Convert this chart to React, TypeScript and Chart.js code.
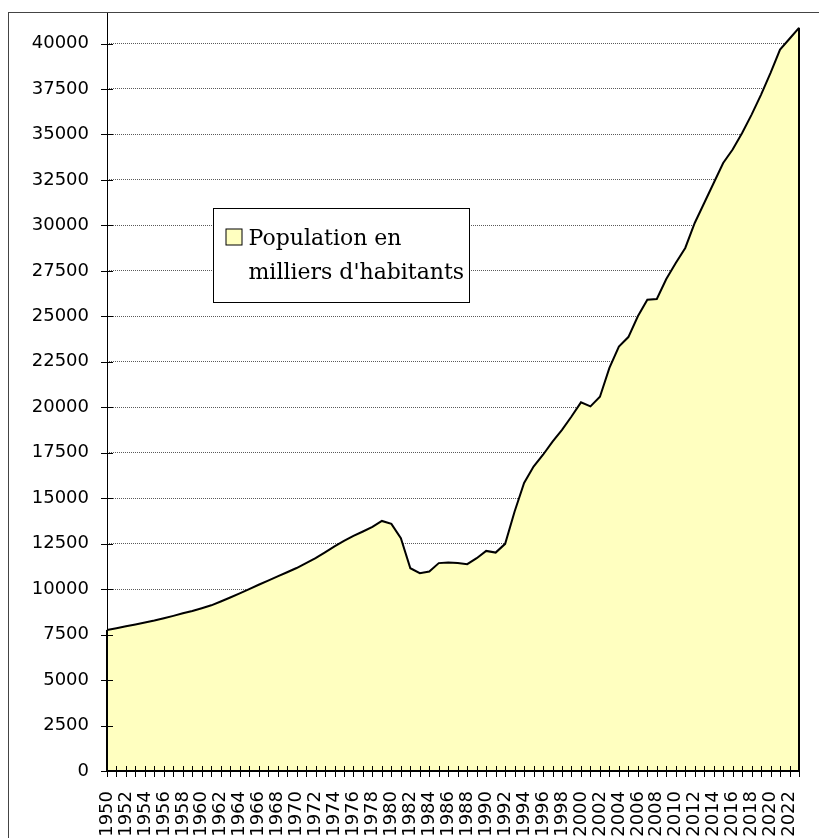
import React, { useEffect, useRef } from 'react';
import { Chart, registerables } from 'chart.js';

Chart.register(...registerables);

const years = [
  '1950', '1951', '1952', '1953', '1954', '1955', '1956', '1957', '1958', '1959',
  '1960', '1961', '1962', '1963', '1964', '1965', '1966', '1967', '1968', '1969',
  '1970', '1971', '1972', '1973', '1974', '1975', '1976', '1977', '1978', '1979',
  '1980', '1981', '1982', '1983', '1984', '1985', '1986', '1987', '1988', '1989',
  '1990', '1991', '1992', '1993', '1994', '1995', '1996', '1997', '1998', '1999',
  '2000', '2001', '2002', '2003', '2004', '2005', '2006', '2007', '2008', '2009',
  '2010', '2011', '2012', '2013', '2014', '2015', '2016', '2017', '2018', '2019',
  '2020', '2021', '2022', '2023',
];

const population = [
  7750, 7850, 7960, 8060, 8160, 8270, 8400, 8530, 8670, 8800,
  8950, 9110, 9320, 9540, 9770, 10000, 10240, 10470, 10700, 10930,
  11160, 11430, 11700, 12020, 12350, 12650, 12930, 13170, 13420, 13750,
  13590, 12800, 11150, 10880, 10970, 11430, 11460, 11430, 11370, 11700,
  12100, 12010, 12490, 14270, 15840, 16740, 17390, 18110, 18760, 19490,
  20270, 20045, 20580, 22160, 23340, 23860, 25000, 25910, 25950, 27050,
  27930, 28760, 30130, 31230, 32330, 33430, 34170, 35080, 36090, 37190,
  38390, 39670, 40260, 40860,
];

const yTicks = [
  0, 2500, 5000, 7500, 10000, 12500, 15000, 17500, 20000,
  22500, 25000, 27500, 30000, 32500, 35000, 37500, 40000,
];
const yMax = 41677;
const legendLines = ['Population en', "milliers d'habitants"];

const FILL = '#FFFFC0';

const decorations = {
  id: 'decorations',
  afterDatasetsDraw(chart: any) {
    const { ctx, chartArea } = chart;
    const { left, right, top, bottom } = chartArea;
    const xs = chart.scales.x;
    const ys = chart.scales.y;
    const meta = chart.getDatasetMeta(0);
    const first = meta.data[0];
    const last = meta.data[meta.data.length - 1];
    ctx.save();
    ctx.strokeStyle = '#000';
    // vertical edges of the area
    ctx.lineWidth = 2;
    ctx.beginPath();
    ctx.moveTo(first.x, first.y);
    ctx.lineTo(first.x, bottom);
    ctx.moveTo(last.x, last.y);
    ctx.lineTo(last.x, bottom);
    ctx.stroke();
    // y axis line
    ctx.lineWidth = 1;
    ctx.beginPath();
    ctx.moveTo(left + 0.5, top);
    ctx.lineTo(left + 0.5, bottom);
    ctx.stroke();
    // x axis line
    ctx.lineWidth = 2;
    ctx.beginPath();
    ctx.moveTo(left, bottom);
    ctx.lineTo(right + 1, bottom);
    ctx.stroke();
    // cross ticks
    ctx.lineWidth = 1;
    ctx.beginPath();
    yTicks.forEach((v) => {
      const y = Math.round(ys.getPixelForValue(v)) + 0.5;
      ctx.moveTo(left - 6, y);
      ctx.lineTo(left + 6, y);
    });
    years.forEach((_, i) => {
      const x = Math.round(xs.getPixelForValue(i)) + 0.5;
      ctx.moveTo(x, bottom - 5);
      ctx.lineTo(x, bottom + 6);
    });
    ctx.stroke();

    // legend
    const bx = Math.round(left + 106) + 0.5;
    const by = Math.round(top + 195) + 0.5;
    const bw = 256;
    const bh = 94;
    ctx.fillStyle = '#fff';
    ctx.fillRect(bx, by, bw, bh);
    ctx.lineWidth = 1;
    ctx.strokeStyle = '#000';
    ctx.strokeRect(bx, by, bw, bh);
    ctx.fillStyle = FILL;
    ctx.fillRect(bx + 12.5, by + 20.5, 16, 16);
    ctx.strokeRect(bx + 12.5, by + 20.5, 16, 16);
    ctx.fillStyle = '#000';
    ctx.font = '22px "DejaVu Serif"';
    ctx.textAlign = 'left';
    ctx.textBaseline = 'alphabetic';
    ctx.fillText(legendLines[0], bx + 35, by + 36.5);
    ctx.fillText(legendLines[1], bx + 35, by + 70);
    ctx.restore();
  },
};

export default function App() {
  const ref = useRef<HTMLCanvasElement>(null);

  useEffect(() => {
    if (!ref.current) return;
    const chart = new Chart(ref.current, {
      type: 'line',
      data: {
        labels: years,
        datasets: [
          {
            label: "Population en milliers d'habitants",
            data: population,
            borderColor: '#000',
            borderWidth: 2,
            backgroundColor: FILL,
            fill: 'origin',
            pointRadius: 0,
            tension: 0,
          },
        ],
      },
      options: {
        animation: false,
        responsive: false,
        devicePixelRatio: 1,
        layout: { padding: { left: 0, right: 20, top: 0, bottom: 0 } },
        plugins: {
          legend: { display: false },
          tooltip: { enabled: false },
        },
        scales: {
          x: {
            type: 'category',
            offset: false,
            grid: { display: false },
            border: { display: false },
            ticks: {
              autoSkip: false,
              minRotation: 90,
              maxRotation: 90,
              padding: 12,
              color: '#000',
              font: { family: '"DejaVu Sans"', size: 18 },
              callback: (_v: any, i: number) =>
                Number(years[i]) % 2 === 0 ? years[i] : '',
            },
            afterFit: (s: any) => {
              s.height = 67;
              s.paddingLeft = 0;
              s.paddingRight = 0;
            },
          },
          y: {
            type: 'linear',
            min: 0,
            max: yMax,
            grid: {
              color: '#5a5a5a',
              lineWidth: 1,
              drawTicks: false,
            },
            border: { display: false, dash: [1, 1] },
            ticks: {
              autoSkip: false,
              padding: 18,
              color: '#000',
              font: { family: '"DejaVu Sans"', size: 18 },
              callback: (v: any) => String(v),
            },
            afterBuildTicks: (s: any) => {
              s.ticks = yTicks.map((v) => ({ value: v }));
            },
            afterFit: (s: any) => {
              s.width = 98;
              s.paddingTop = 0;
              s.paddingBottom = 0;
            },
          },
        },
      },
      plugins: [decorations],
    });
    return () => chart.destroy();
  }, []);

  return (
    <div
      style={{
        position: 'absolute',
        left: 8,
        top: 12,
        width: 811,
        height: 826,
        borderLeft: '1px solid #444',
        borderTop: '1px solid #444',
        overflow: 'hidden',
      }}
    >
      <canvas ref={ref} width={810} height={825} style={{ display: 'block', width: 810, height: 825 }} />
    </div>
  );
}
